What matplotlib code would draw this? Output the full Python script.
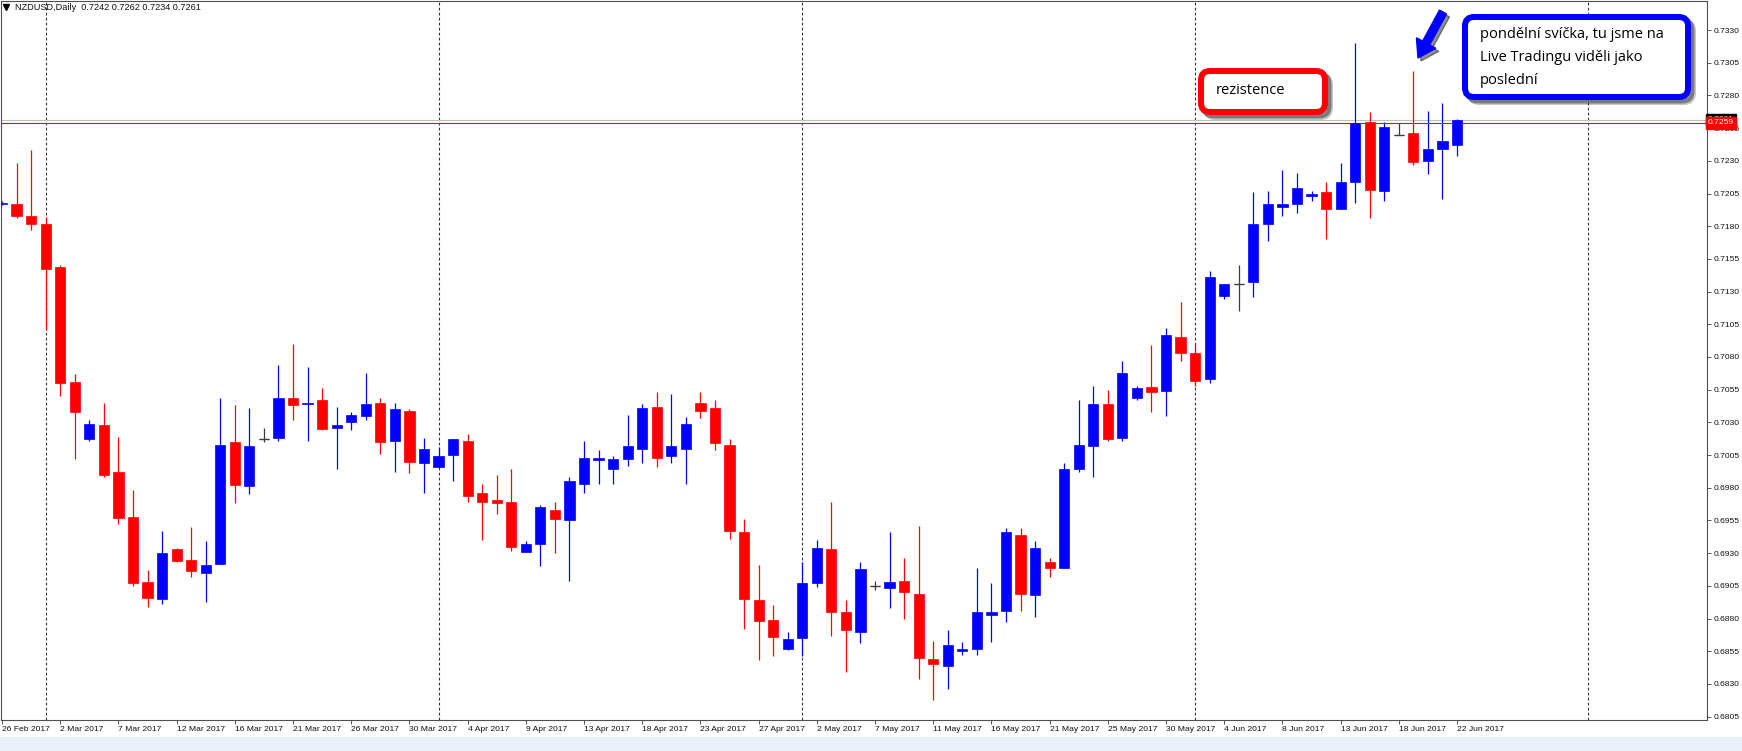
import numpy as np
import matplotlib
matplotlib.use("Agg")
import matplotlib.pyplot as plt
from matplotlib.patches import FancyBboxPatch, FancyArrow, Rectangle
from matplotlib.lines import Line2D
from matplotlib.transforms import IdentityTransform, blended_transform_factory

W, H = 1742, 751

# NZDUSD daily candles, 26 Feb 2017 .. 22 Jun 2017 (one bar per trading day incl. Sundays)
opens = [0.7197, 0.7197, 0.7188, 0.7182, 0.7149, 0.7061, 0.7017, 0.7028, 0.6992, 0.6958,
         0.6908, 0.6895, 0.6933, 0.6925, 0.6915, 0.6922, 0.7015, 0.6981, 0.7017, 0.7018,
         0.7049, 0.7044, 0.7047, 0.7026, 0.7030, 0.7035, 0.7045, 0.7016, 0.7039, 0.6999,
         0.6996, 0.7005, 0.7016, 0.6976, 0.6971, 0.6969, 0.6931, 0.6937, 0.6963, 0.6955,
         0.6983, 0.7001, 0.6994, 0.7002, 0.7010, 0.7042, 0.7004, 0.7010, 0.7045, 0.7041,
         0.7013, 0.6946, 0.6894, 0.6879, 0.6857, 0.6865, 0.6907, 0.6933, 0.6885, 0.6870,
         0.6905, 0.6903, 0.6909, 0.6899, 0.6849, 0.6844, 0.6855, 0.6857, 0.6883, 0.6886,
         0.6944, 0.6898, 0.6923, 0.6919, 0.6994, 0.7012, 0.7044, 0.7018, 0.7049, 0.7057,
         0.7054, 0.7095, 0.7083, 0.7063, 0.7127, 0.7136, 0.7137, 0.7182, 0.7195, 0.7197,
         0.7203, 0.7206, 0.7193, 0.7214, 0.7260, 0.7207, 0.7250, 0.7251, 0.7230, 0.7239,
         0.7242]
highs = [0.7199, 0.7228, 0.7238, 0.7187, 0.7150, 0.7067, 0.7032, 0.7045, 0.7019, 0.6978,
         0.6917, 0.6947, 0.6934, 0.6950, 0.6939, 0.7049, 0.7043, 0.7041, 0.7026, 0.7074,
         0.7090, 0.7072, 0.7056, 0.7042, 0.7038, 0.7068, 0.7049, 0.7045, 0.7040, 0.7018,
         0.7011, 0.7017, 0.7021, 0.6983, 0.6990, 0.6994, 0.6939, 0.6967, 0.6969, 0.6988,
         0.7016, 0.7009, 0.7004, 0.7036, 0.7044, 0.7053, 0.7052, 0.7034, 0.7053, 0.7047,
         0.7017, 0.6956, 0.6921, 0.6890, 0.6870, 0.6923, 0.6940, 0.6969, 0.6894, 0.6923,
         0.6909, 0.6946, 0.6926, 0.6951, 0.6863, 0.6871, 0.6862, 0.6919, 0.6907, 0.6949,
         0.6949, 0.6939, 0.6926, 0.6999, 0.7047, 0.7058, 0.7055, 0.7077, 0.7058, 0.7089,
         0.7102, 0.7122, 0.7090, 0.7146, 0.7136, 0.7150, 0.7206, 0.7207, 0.7223, 0.7221,
         0.7207, 0.7214, 0.7228, 0.7320, 0.7267, 0.7260, 0.7259, 0.7299, 0.7268, 0.7274,
         0.7262]
lows = [0.7196, 0.7186, 0.7177, 0.7101, 0.7050, 0.7002, 0.7016, 0.6988, 0.6952, 0.6905,
        0.6889, 0.6891, 0.6923, 0.6912, 0.6893, 0.6922, 0.6968, 0.6975, 0.7015, 0.7016,
        0.7032, 0.7016, 0.7024, 0.6994, 0.7024, 0.7032, 0.7006, 0.6992, 0.6991, 0.6976,
        0.6995, 0.6985, 0.6969, 0.6940, 0.6960, 0.6932, 0.6931, 0.6920, 0.6930, 0.6909,
        0.6976, 0.6983, 0.6983, 0.6997, 0.6999, 0.6996, 0.6999, 0.6983, 0.7033, 0.7009,
        0.6941, 0.6872, 0.6848, 0.6851, 0.6856, 0.6851, 0.6904, 0.6867, 0.6839, 0.6861,
        0.6902, 0.6888, 0.6880, 0.6834, 0.6818, 0.6826, 0.6852, 0.6852, 0.6862, 0.6877,
        0.6886, 0.6881, 0.6912, 0.6919, 0.6992, 0.6988, 0.7016, 0.7016, 0.7047, 0.7038,
        0.7035, 0.7077, 0.7058, 0.7060, 0.7124, 0.7115, 0.7126, 0.7169, 0.7188, 0.7190,
        0.7199, 0.7170, 0.7193, 0.7198, 0.7186, 0.7199, 0.7250, 0.7227, 0.7220, 0.7201,
        0.7234]
closes = [0.7198, 0.7188, 0.7182, 0.7147, 0.7060, 0.7038, 0.7029, 0.6990, 0.6957, 0.6907,
          0.6896, 0.6930, 0.6924, 0.6916, 0.6921, 0.7013, 0.6982, 0.7012, 0.7017, 0.7049,
          0.7043, 0.7045, 0.7025, 0.7028, 0.7036, 0.7044, 0.7015, 0.7040, 0.7000, 0.7010,
          0.7004, 0.7017, 0.6974, 0.6969, 0.6968, 0.6935, 0.6937, 0.6965, 0.6956, 0.6985,
          0.7003, 0.7003, 0.7002, 0.7012, 0.7041, 0.7003, 0.7012, 0.7029, 0.7039, 0.7014,
          0.6947, 0.6895, 0.6878, 0.6866, 0.6864, 0.6907, 0.6934, 0.6885, 0.6871, 0.6918,
          0.6905, 0.6908, 0.6900, 0.6850, 0.6845, 0.6860, 0.6857, 0.6885, 0.6885, 0.6946,
          0.6899, 0.6934, 0.6919, 0.6994, 0.7013, 0.7044, 0.7017, 0.7068, 0.7056, 0.7053,
          0.7097, 0.7083, 0.7062, 0.7141, 0.7136, 0.7136, 0.7182, 0.7197, 0.7197, 0.7209,
          0.7205, 0.7193, 0.7214, 0.7259, 0.7208, 0.7256, 0.7250, 0.7229, 0.7239, 0.7245,
          0.7261]

date_labels = ['26 Feb 2017', '2 Mar 2017', '7 Mar 2017', '12 Mar 2017', '16 Mar 2017',
               '21 Mar 2017', '26 Mar 2017', '30 Mar 2017', '4 Apr 2017', '9 Apr 2017',
               '13 Apr 2017', '18 Apr 2017', '23 Apr 2017', '27 Apr 2017', '2 May 2017',
               '7 May 2017', '11 May 2017', '16 May 2017', '21 May 2017', '25 May 2017',
               '30 May 2017', '4 Jun 2017', '8 Jun 2017', '13 Jun 2017', '18 Jun 2017',
               '22 Jun 2017']
price_ticks = np.round(np.arange(0.6805, 0.73301, 0.0025), 4)
month_starts = [3, 30, 55, 82, 109]
resistance = 0.7259
bid = 0.72615
header = 'NZDUSD,Daily  0.7242 0.7262 0.7234 0.7261'
note_red = 'rezistence'
note_blue = ['pondělní svíčka, tu jsme na', 'Live Tradingu viděli jako', 'poslední']

UP, DOWN, FLAT = '#0000ff', '#ff0000', '#3c3c3c'

plt.rcParams['font.family'] = ['Liberation Sans', 'DejaVu Sans']

fig = plt.figure(figsize=(W / 100, H / 100), dpi=100)
fig.patch.set_facecolor('white')
fig.add_artist(Rectangle((0, 0), W, 14, transform=IdentityTransform(),
                         fc='#eaf0f8', ec='none', zorder=0))

# plot area spans pixels x 1..1707, y 1..720
ax = fig.add_axes([1 / W, 1 - 720 / H, 1706 / W, 719 / H])
ax.set_xlim(-0.07, 117.18)
ax.set_ylim(0.68024, 0.73522)

x = np.arange(len(opens))
o = np.array(opens); c = np.array(closes)
hi = np.array(highs); lo = np.array(lows)
cols = np.where(c > o, UP, np.where(c < o, DOWN, FLAT))

ax.vlines(x, lo, hi, colors=cols, lw=0.9, zorder=3)
body = np.abs(c - o)
ax.bar(x, body, bottom=np.minimum(o, c), width=0.7, color=cols, edgecolor=cols,
       lw=0.5, zorder=4)
flat = body == 0
ax.hlines(o[flat], x[flat] - 0.35, x[flat] + 0.35, colors=FLAT, lw=1.0, zorder=4)

for m in month_starts:
    ax.axvline(m, color='#333333', lw=0.8, ls=(0, (2.5, 2)), zorder=1)

ax.axhline(bid, color='#c0c0c0', lw=0.8, zorder=2)
ax.axhline(resistance, color='#ff0000', lw=0.8, zorder=2)

ax.yaxis.tick_right()
ax.set_yticks(price_ticks, [f'{p:.4f}' for p in price_ticks])
ax.set_xticks(x[::4], date_labels, ha='left')
ax.tick_params(axis='both', direction='out', length=3, width=0.7, color='#555555',
               labelsize=6.1, labelcolor='#111111')
ax.tick_params(axis='y', pad=2)
ax.tick_params(axis='x', pad=1.5)
for s in ax.spines.values():
    s.set_color('#505050')
    s.set_linewidth(0.8)

blend = blended_transform_factory(ax.transAxes, ax.transData)
ax.text(1.0006, bid, '0.7261', transform=blend, ha='left', va='center', color='white',
        fontsize=6.1, clip_on=False, zorder=6,
        bbox=dict(boxstyle='square,pad=0.25', fc='black', ec='black'))
ax.text(1.0006, resistance, '0.7259', transform=blend, ha='left', va='center',
        color='white', fontsize=6.1, clip_on=False, zorder=7,
        bbox=dict(boxstyle='square,pad=0.25', fc='#ff0000', ec='#ff0000'))

# header
fig.add_artist(Line2D([6], [H - 7], marker='v', ms=4.2, color='black', lw=0,
                      transform=IdentityTransform()))
fig.text(15, H - 7.5, header, transform=IdentityTransform(), va='center',
         fontsize=6.6, color='#111111')


def callout(x0, y0, x1, y1, edge):
    # rounded box with drop shadow, pixel coords from top-left
    w, h = x1 - x0, y1 - y0
    for off, a in ((5, 0.25), (3.5, 0.45)):
        fig.add_artist(FancyBboxPatch((x0 + off, H - y1 - off), w, h,
                                      boxstyle='round,pad=0,rounding_size=9',
                                      transform=IdentityTransform(), fc='none',
                                      ec='#202020', lw=4.3, alpha=a, zorder=8))
    fig.add_artist(FancyBboxPatch((x0, H - y1), w, h, boxstyle='round,pad=0,rounding_size=9',
                                  transform=IdentityTransform(), fc='white', ec=edge,
                                  lw=4.3, zorder=9))


callout(1201, 71, 1325, 112, '#ff0000')
fig.text(1216, H - 91, note_red, transform=IdentityTransform(), va='center',
         fontsize=10.5, family='Open Sans', color='black', zorder=10)

callout(1465, 17, 1688, 97, '#0000ff')
for i, line in enumerate(note_blue):
    fig.text(1480, H - 35 - 22.5 * i, line, transform=IdentityTransform(), va='center',
             fontsize=10.5, family='Open Sans', color='black', zorder=10)

# arrow pointing at the Monday candle
for off, colr, a in ((3, '#202020', 0.5), (0, '#0000ff', 1.0)):
    fig.add_artist(FancyArrow(1443 + off, H - 12 - off, -25, -46, width=8, head_width=22,
                              head_length=17, length_includes_head=True,
                              transform=IdentityTransform(), fc=colr, ec=colr,
                              lw=1, alpha=a, zorder=8 + (off == 0)))

fig.savefig('out.png', dpi=100)
